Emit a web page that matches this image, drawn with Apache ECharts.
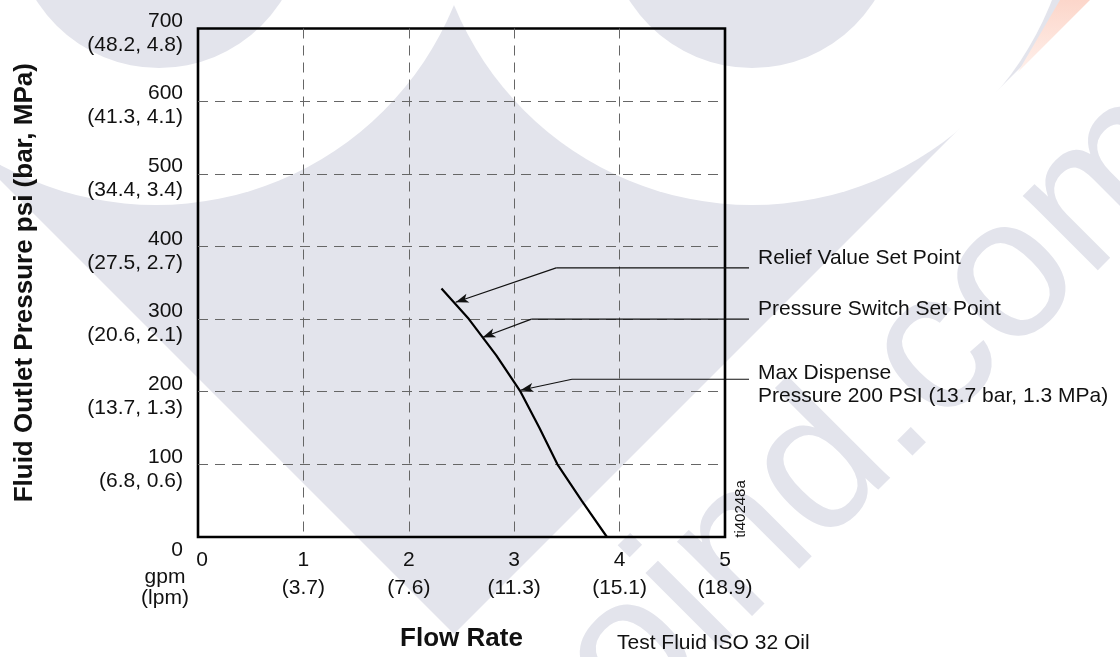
<!DOCTYPE html>
<html>
<head>
<meta charset="utf-8">
<script src="https://cdn.jsdelivr.net/npm/echarts@6/dist/echarts.min.js"></script>
<style>
  html, body { margin: 0; padding: 0; background: #fff; }
  #chart { width: 1120px; height: 657px; }
</style>
</head>
<body>
<div id="chart"></div>
<script>
"use strict";

const FONT = "'Liberation Sans', Arial, Helvetica, sans-serif";

// axis ticks
const gpmTicks = [0, 1, 2, 3, 4, 5];
const lpmTicks = ["", "3.7", "7.6", "11.3", "15.1", "18.9"];
const psiTicks = [0, 100, 200, 300, 400, 500, 600, 700];
const barTicks = ["", "6.8", "13.7", "20.6", "27.5", "34.4", "41.3", "48.2"];
const mpaTicks = ["", "0.6", "1.3", "2.1", "2.7", "3.4", "4.1", "4.8"];

// pressure / flow curve (gpm, psi)
const curveGpm = [2.31, 2.57, 2.83, 3.06, 3.24, 3.41, 3.64, 3.88];
const curvePsi = [342, 300, 250, 200, 150, 100, 50, 0];

// call-outs: arrow tip, elbow, label end (gpm, psi)
const reliefLine = [[2.445, 323], [3.40, 370], [5.23, 370]];
const switchLine = [[2.70, 275], [3.165, 300], [5.23, 300]];
const dispenseLine = [[3.06, 203], [3.55, 218], [5.23, 218]];
const calloutText = [
  "Relief Value Set Point",
  "Pressure Switch Set Point",
  "Max Dispense\nPressure 200 PSI (13.7 bar, 1.3 MPa)",
];
const calloutMax = 5.23; // right end of the call-out lines

const chart = echarts.init(document.getElementById("chart"));

// 引出线 + 箭头 (second, wider grid so the lines can run past the frame)
const callout = (pts, text, offsetY) => ({
  type: "line",
  xAxisIndex: 1,
  yAxisIndex: 1,
  silent: true,
  symbol: "none",
  animation: false,
  lineStyle: { color: "#111", width: 1.2 },
  endLabel: {
    show: true,
    distance: 9,
    offset: [0, offsetY],
    formatter: text,
    fontFamily: FONT,
    fontSize: 21,
    lineHeight: 23,
    color: "#111",
  },
  data: [pts[1], pts[2]],
  markLine: {
    silent: true,
    animation: false,
    symbol: ["none", "arrow"],
    symbolSize: [7, 13],
    label: { show: false },
    lineStyle: { color: "#111", width: 1.2, type: "solid" },
    data: [[{ coord: pts[1] }, { coord: pts[0] }]],
  },
});

const grey = "#e3e4ec";
const dash = { color: "#666", width: 1, type: [10, 7] };

const option = {
  backgroundColor: "#fff",
  animation: false,
  graphic: [
    // watermark shapes
    { type: "polygon", z: -100, silent: true,
      shape: { points: [[0, 0], [0, 180], [454, 634], [1088, 0]] },
      style: { fill: grey } },
    { type: "circle", z: -99, silent: true,
      shape: { cx: 156, cy: -117, r: 322 }, style: { fill: "#fff" } },
    { type: "circle", z: -99, silent: true,
      shape: { cx: 752, cy: -117, r: 322 }, style: { fill: "#fff" } },
    { type: "circle", z: -98, silent: true,
      shape: { cx: 159, cy: -77, r: 145 }, style: { fill: grey } },
    { type: "circle", z: -98, silent: true,
      shape: { cx: 752, cy: -77, r: 145 }, style: { fill: grey } },
    { type: "polygon", z: -97, silent: true,
      shape: { points: [[1060, 0], [1090, 0], [1018, 72]] },
      style: {
        fill: new echarts.graphic.LinearGradient(0, 0, 0, 1, [
          { offset: 0, color: "#fcd6ca" },
          { offset: 1, color: "#fff0eb" },
        ]),
      } },
    { type: "text", z: -97, silent: true, x: 880, y: 410, rotation: Math.PI / 4,
      style: { text: "oind.com", font: "200px " + FONT, fill: grey,
        textAlign: "center", textVerticalAlign: "middle" } },
    // other texts
    { type: "text", x: 165, y: 588,
      style: { text: "gpm\n(lpm)", font: "21px " + FONT, lineHeight: 21, fill: "#111",
        textAlign: "center", textVerticalAlign: "middle" } },
    { type: "text", x: 617, y: 643,
      style: { text: "Test Fluid ISO 32 Oil", font: "21px " + FONT, fill: "#111",
        textAlign: "left", textVerticalAlign: "middle" } },
    { type: "text", x: 741, y: 509, rotation: Math.PI / 2,
      style: { text: "ti40248a", font: "15px " + FONT, fill: "#111",
        textAlign: "center", textVerticalAlign: "middle" } },
  ],
  grid: [
    {
      left: 198,
      right: 395,
      top: 26,
      bottom: 118,
      show: true,
      borderColor: "#000",
      borderWidth: 2.6,
      backgroundColor: "transparent",
    },
    { left: 198, right: 371, top: 26, bottom: 118 },
  ],
  xAxis: [
    {
      type: "value",
      min: 0,
      max: 5,
      interval: 1,
      name: "Flow Rate",
      nameLocation: "middle",
      nameGap: 89,
      nameTextStyle: { fontFamily: FONT, fontSize: 26, fontWeight: "bold", color: "#111" },
      axisLine: { show: false },
      axisTick: { show: false },
      splitLine: { showMinLine: false, showMaxLine: false, lineStyle: dash },
      axisLabel: {
        margin: 9,
        fontFamily: FONT,
        fontSize: 21,
        lineHeight: 28,
        color: "#111",
        formatter: (v) => {
          const i = gpmTicks.indexOf(v);
          return lpmTicks[i] ? `${v}\n(${lpmTicks[i]})` : `{z|${v}}`;
        },
        rich: {
          z: { padding: [0, 0, 0, 8], fontFamily: FONT, fontSize: 21, lineHeight: 28, color: "#111" },
        },
      },
    },
    { type: "value", gridIndex: 1, min: 0, max: calloutMax, show: false },
  ],
  yAxis: [
    {
      type: "value",
      min: 0,
      max: 700,
      interval: 100,
      name: "Fluid Outlet Pressure psi (bar, MPa)",
      nameLocation: "middle",
      nameGap: 160,
      nameTextStyle: { fontFamily: FONT, fontSize: 26, fontWeight: "bold", color: "#111" },
      axisLine: { show: false },
      axisTick: { show: false },
      splitLine: { showMinLine: false, showMaxLine: false, lineStyle: dash },
      axisLabel: {
        margin: 15,
        padding: [9, 0, 0, 0],
        fontFamily: FONT,
        fontSize: 21,
        lineHeight: 24,
        color: "#111",
        formatter: (v) => {
          const i = psiTicks.indexOf(v);
          return barTicks[i] ? `${v}\n(${barTicks[i]}, ${mpaTicks[i]})` : `{z|${v}}`;
        },
        rich: {
          z: { padding: [17, 0, 0, 0], fontFamily: FONT, fontSize: 21, lineHeight: 24, color: "#111" },
        },
      },
    },
    { type: "value", gridIndex: 1, min: 0, max: 700, show: false },
  ],
  series: [
    {
      name: "curve",
      type: "line",
      symbol: "none",
      silent: true,
      lineStyle: { color: "#000", width: 2.2 },
      data: curveGpm.map((x, i) => [x, curvePsi[i]]),
    },
    callout(reliefLine, calloutText[0], -10),
    callout(switchLine, calloutText[1], -10),
    callout(dispenseLine, calloutText[2], 5),
  ],
};

chart.setOption(option);
</script>
</body>
</html>
